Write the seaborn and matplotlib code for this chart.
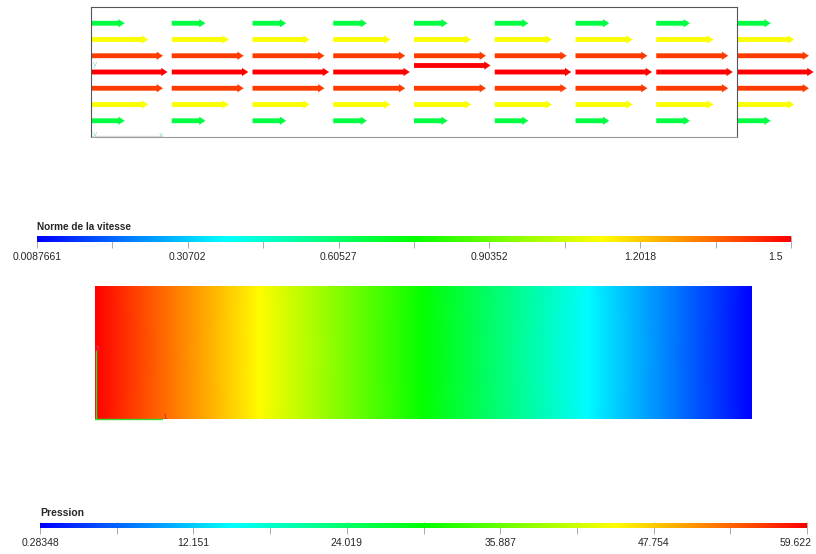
import numpy as np
import pandas as pd
import seaborn as sns
import matplotlib
matplotlib.use("Agg")
import matplotlib.pyplot as plt
from matplotlib import colors, cm, transforms

# Vitesse : colonnes (x) et lignes (y) des flèches, norme par ligne
col_x = [0, 1.25, 2.5, 3.75, 5, 6.25, 7.5, 8.75, 10]
row_y = [1.75, 1.5, 1.25, 1.0, 0.75, 0.5, 0.25]
row_speed = [0.66, 1.12, 1.41, 1.50, 1.41, 1.12, 0.66]
centre_y = [1.0, 1.0, 1.0, 1.0, 1.1, 1.0, 1.0, 1.0, 1.0]  # flèche décalée au milieu

v_min, v_max = 0.0087661, 1.5
v_labels = ["0.0087661", "0.30702", "0.60527", "0.90352", "1.2018", "1.5"]

# Pression le long du canal
p_x = [0, 2.5, 5, 7.5, 10]
p_vals = [59.622, 44.79, 29.953, 15.118, 0.28348]
p_min, p_max = 0.28348, 59.622
p_labels = ["0.28348", "12.151", "24.019", "35.887", "47.754", "59.622"]

sns.set_theme(style="white")
plt.rcParams["font.family"] = ["Liberation Sans", "DejaVu Sans"]

cmap = sns.blend_palette(["blue", "cyan", "lime", "yellow", "red"], n_colors=256, as_cmap=True)

W, H = 816, 554


def box(x0, y0, x1, y1):
    return [x0 / W, 1 - y1 / H, (x1 - x0) / W, (y1 - y0) / H]


def colour_bar(fig, rect, norm, labels, shift_last):
    cax = fig.add_axes(rect)
    cb = fig.colorbar(cm.ScalarMappable(norm, cmap), cax=cax, orientation="horizontal")
    ticks = np.linspace(norm.vmin, norm.vmax, 11)
    cb.set_ticks(ticks, labels=[labels[k // 2] if k % 2 == 0 else "" for k in range(11)])
    cb.outline.set_visible(False)
    cax.tick_params(direction="inout", length=8.5, width=0.7, color="#aaaaaa",
                    labelsize=7.5, pad=3, bottom=True)
    last = cax.get_xticklabels()[-1]
    last.set_transform(last.get_transform() +
                       transforms.ScaledTranslation(shift_last / 100, 0, fig.dpi_scale_trans))
    return cb


fig = plt.figure(figsize=(W / 100, H / 100), dpi=100)

# --- champ de vitesse ---
rows = []
for i, x in enumerate(col_x):
    for j, y in enumerate(row_y):
        yy = centre_y[i] if j == 3 else y
        rows.append({"x": x, "y": yy, "u": row_speed[j]})
arrows = pd.DataFrame(rows)

vnorm = colors.Normalize(v_min, v_max)
ax = fig.add_axes(box(91, 7, 737, 137))
q = ax.quiver(arrows.x, arrows.y, arrows.u, np.zeros(len(arrows)), arrows.u,
              cmap=cmap, norm=vnorm, angles="xy", scale_units="xy", scale=1 / 0.79,
              width=0.0075, headwidth=1.7, headlength=1.3, headaxislength=1.3, pivot="tail")
q.set_clip_on(False)
ax.set_xlim(0, 10)
ax.set_ylim(0, 2)
ax.set_xticks([])
ax.set_yticks([])
for s in ax.spines.values():
    s.set_color("#555555")
    s.set_linewidth(0.8)
ax.spines["bottom"].set_color("#999999")
ax.plot([0, 1.1], [0.02, 0.02], color="#dddddd", lw=1, clip_on=False)
ax.text(0.03, 1.1, "y", color="#99dddd", fontsize=6, clip_on=False)
ax.text(0.03, 0.02, "y", color="#99dddd", fontsize=6, clip_on=False)
ax.text(1.05, 0.0, "x", color="#99dddd", fontsize=6, clip_on=False)

# --- barre de couleur vitesse ---
fig.text(37 / W, 1 - 227 / H, "Norme de la vitesse", fontsize=7.2, fontweight="bold", va="center")
colour_bar(fig, box(37, 236, 791, 242), vnorm, v_labels, -16)

# --- champ de pression ---
pnorm = colors.Normalize(p_min, p_max)
ax2 = fig.add_axes(box(95, 286, 752, 419))
ax2.pcolormesh(p_x, [0, 2], np.vstack([p_vals, p_vals]), shading="gouraud", cmap=cmap, norm=pnorm)
ax2.set_xlim(0, 10)
ax2.set_ylim(0, 2)
ax2.axis("off")
ax2.plot([0.01, 0.01], [0, 1.02], color="#33dd33", lw=1, clip_on=False)
ax2.plot([0, 1.02], [0.0, 0.0], color="#33dd33", lw=1, clip_on=False)
ax2.text(1.03, 0.0, "1", color="#cc3333", fontsize=6, clip_on=False)
ax2.text(0.0, 1.02, "2", color="#cc4466", fontsize=6, clip_on=False)

# --- barre de couleur pression ---
fig.text(40 / W, 1 - 513 / H, "Pression", fontsize=7.5, fontweight="bold", va="center")
colour_bar(fig, box(40, 523, 807, 528), pnorm, p_labels, -11)

fig.savefig("out.png", dpi=100)
